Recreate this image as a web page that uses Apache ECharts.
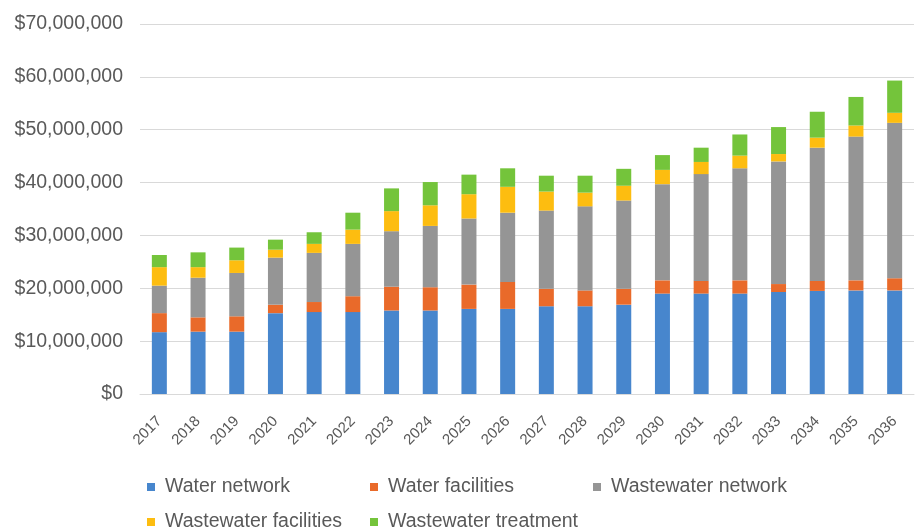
<!DOCTYPE html>
<html>
<head>
<meta charset="utf-8">
<script src="https://cdn.jsdelivr.net/npm/echarts@6/dist/echarts.min.js"></script>
<style>html,body{margin:0;padding:0;background:#fff;}#c{width:921px;height:528px;}</style>
</head>
<body>
<div id="c"></div>
<script>
const years = ['2017','2018','2019','2020','2021','2022','2023','2024','2025','2026','2027','2028','2029','2030','2031','2032','2033','2034','2035','2036'];
const waterNetwork = [11.7,11.8,11.8,15.3,15.5,15.5,15.8,15.8,16.1,16.1,16.6,16.6,16.9,19.0,19.0,19.0,19.3,19.5,19.6,19.6];
const waterFacilities = [3.6,2.7,2.9,1.6,1.9,3.0,4.5,4.4,4.6,5.1,3.3,3.0,3.0,2.5,2.4,2.5,1.5,1.9,1.9,2.3];
const wastewaterNetwork = [5.2,7.5,8.2,8.9,9.3,9.9,10.5,11.6,12.5,13.1,14.8,15.9,16.7,18.2,20.2,21.2,23.2,25.2,27.2,29.4];
const wastewaterFacilities = [3.5,2.0,2.4,1.5,1.7,2.7,3.8,3.9,4.6,4.9,3.6,2.6,2.8,2.7,2.3,2.4,1.4,1.9,2.1,1.9];
const wastewaterTreatment = [2.3,2.8,2.4,1.9,2.2,3.2,4.3,4.4,3.7,3.5,3.0,3.2,3.2,2.8,2.7,4.0,5.1,4.9,5.4,6.1];
const seriesNames = ['Water network','Water facilities','Wastewater network','Wastewater facilities','Wastewater treatment'];
const colors = ['#4786cd','#e96a2a','#959595','#fdbd10','#74c43b'];

const M = 1000000;
const dataSets = [waterNetwork, waterFacilities, wastewaterNetwork, wastewaterFacilities, wastewaterTreatment];
const legendPos = [[147,477],[370,477],[593,477],[147,512],[370,512]];
const font = 'Liberation Sans, Arial, sans-serif';

const chart = echarts.init(document.getElementById('c'));
chart.setOption({
  animation: false,
  color: colors,
  grid: {left: 140, right: 7, top: 24, bottom: 134},
  legend: seriesNames.map((n, i) => ({
    data: [n], left: legendPos[i][0], top: legendPos[i][1],
    itemWidth: 8, itemHeight: 8, itemGap: 4, icon: 'rect', padding: 0,
    textStyle: {fontFamily: font, fontSize: 19.5, color: '#595959', padding: [0,0,0,5]}
  })),
  xAxis: {
    type: 'category', data: years,
    axisLine: {lineStyle: {color: '#d9d9d9'}},
    axisTick: {show: false},
    axisLabel: {rotate: 45, fontFamily: font, fontSize: 15, color: '#595959', margin: 25}
  },
  yAxis: {
    type: 'value', min: 0, max: 70*M, interval: 10*M,
    axisLine: {show: false}, axisTick: {show: false},
    splitLine: {lineStyle: {color: '#d9d9d9'}},
    axisLabel: {
      fontFamily: font, fontSize: 19.5, color: '#595959', margin: 17,
      formatter: v => '$' + v.toLocaleString('en-US')
    }
  },
  series: seriesNames.map((n, i) => ({
    name: n, type: 'bar', stack: 'total', barWidth: 15,
    data: dataSets[i].map(v => Math.round(v*M))
  }))
});
</script>
</body>
</html>
